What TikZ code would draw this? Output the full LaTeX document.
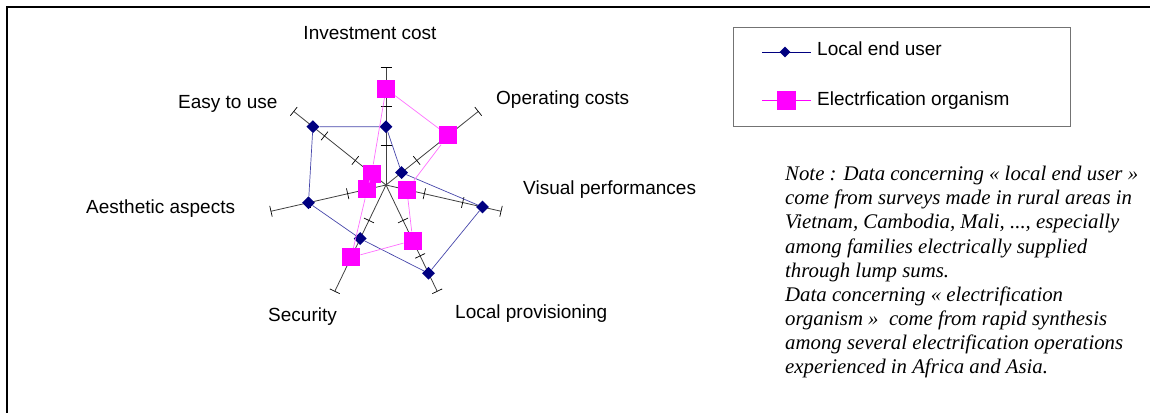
\documentclass[tikz,border=0pt]{standalone}
\usepackage{fontspec}
\setmainfont{Liberation Serif}
\setsansfont{Liberation Sans}
\newfontfamily\noteitalic{Liberation Serif Italic}
\usetikzlibrary{calc,shapes.geometric}
\definecolor{serieA}{RGB}{0,0,128}
\definecolor{serieAline}{RGB}{70,70,170}
\definecolor{serieB}{RGB}{255,0,255}
\definecolor{serieBline}{RGB}{255,110,255}
\definecolor{axisgray}{RGB}{64,64,64}
\begin{document}
\begin{tikzpicture}[x=1pt,y=-1pt,
  axisline/.style={draw=axisgray, line width=0.8pt},
  tickmark/.style={draw=black, line width=0.7pt},
  diam/.style={diamond, fill=serieA, inner sep=0pt, minimum width=13pt, minimum height=13pt},
  sq/.style={rectangle, fill=serieB, inner sep=0pt, minimum size=18pt},
  lineA/.style={draw=serieAline, line width=0.7pt},
  lineB/.style={draw=serieBline, line width=0.7pt},
  lbl/.style={font=\sffamily\fontsize{19}{21}\selectfont, inner sep=0pt},
  notetext/.style={font=\noteitalic\fontsize{20.8}{24}\selectfont, inner sep=0pt, anchor=base west},
]
\useasboundingbox (0,0) rectangle (1150,412);

% outer frame (left and top edges)
\draw[line width=2pt] (7,413) -- (7,7) -- (1151,7);

% radar axes with three graduations each
\coordinate (C) at (386,185);
\def\R{118}
\foreach \k in {0,...,6}{
  \pgfmathsetmacro\ang{90-\k*360/7}
  \draw[axisline] (C) -- ($(C)+(\ang:\R pt)$) coordinate (E\k);
  \foreach \f in {1,2,3}{
    \pgfmathsetmacro\rr{\f*\R/3}
    \draw[tickmark] ($(C)+(\ang:\rr pt)+(\ang+90:5.5pt)$) -- ($(C)+(\ang:\rr pt)+(\ang-90:5.5pt)$);
  }
}

% data series: local end user (A) and electrification organism (B)
\foreach \k/\ra/\rb in {0/58.3/96.2, 1/19.9/79.4, 2/99/21.4, 3/98/61.7, 4/59.5/80.3, 5/79.5/19.2, 6/93.5/18.3}{
  \pgfmathsetmacro\ang{90-\k*360/7}
  \node[diam] (A\k) at ($(C)+(\ang:\ra pt)$) {};
}
\draw[lineA] (A0) -- (A1) -- (A2) -- (A3) -- (A4) -- (A5) -- (A6) -- (A0);

\foreach \k/\ra/\rb in {0/58.3/96.2, 1/19.9/79.4, 2/99/21.4, 3/98/61.7, 4/59.5/80.3, 5/79.5/19.2, 6/93.5/18.3}{
  \pgfmathsetmacro\ang{90-\k*360/7}
  \node[sq] (B\k) at ($(C)+(\ang:\rb pt)$) {};
}
\draw[lineB] (B0) -- (B1) -- (B2) -- (B3) -- (B4) -- (B5) -- (B6) -- (B0);

% axis labels
\node[lbl, anchor=base] (lInv) at (370,40) {Investment cost};
\node[lbl, anchor=base west] (lOp) at (496,104) {Operating costs};
\node[lbl, anchor=base west] (lVis) at (523,194) {Visual performances};
\node[lbl, anchor=base west] (lLoc) at (455,318) {Local provisioning};
\node[lbl, anchor=base west] (lSec) at (268,321) {Security};
\node[lbl, anchor=base west] (lAes) at (86,213) {Aesthetic aspects};
\node[lbl, anchor=base west] (lEasy) at (178,108) {Easy to use};

% legend
\node[draw=black!55, line width=1.3pt, minimum width=337pt, minimum height=99pt,
      anchor=north west, inner sep=0pt] (legend) at (733,27) {};
\coordinate (ka1) at (762,52);
\coordinate (kb1) at (811,52);
\draw[draw=serieA, line width=0.7pt] (ka1) -- (kb1);
\node[diam, minimum width=11pt, minimum height=11pt] (kd) at (785,52) {};
\node[lbl, anchor=base west] (kt1) at (817,56) {Local end user};
\coordinate (ka2) at (762,100);
\coordinate (kb2) at (811,100);
\draw[draw=serieB, line width=0.7pt] (ka2) -- (kb2);
\node[sq, minimum size=19pt] (ks) at (786.5,100.5) {};
\node[lbl, anchor=base west] (kt2) at (817,105) {Electrfication organism};

% note
\node[notetext] (n1) at (785,180.7) {Note : Data concerning « local end user »};
\node[notetext] (n2) at (785,204.8) {come from surveys made in rural areas in};
\node[notetext] (n3) at (785,228.9) {Vietnam, Cambodia, Mali, ..., especially};
\node[notetext] (n4) at (785,253) {among families electrically supplied};
\node[notetext] (n5) at (785,277) {through lump sums.};
\node[notetext] (n6) at (785,301) {Data concerning « electrification};
\node[notetext] (n7) at (785,325.2) {organism »\ \ come from rapid synthesis};
\node[notetext] (n8) at (785,349.3) {among several electrification operations};
\node[notetext] (n9) at (785,373.4) {experienced in Africa and Asia.};
\end{tikzpicture}
\end{document}
